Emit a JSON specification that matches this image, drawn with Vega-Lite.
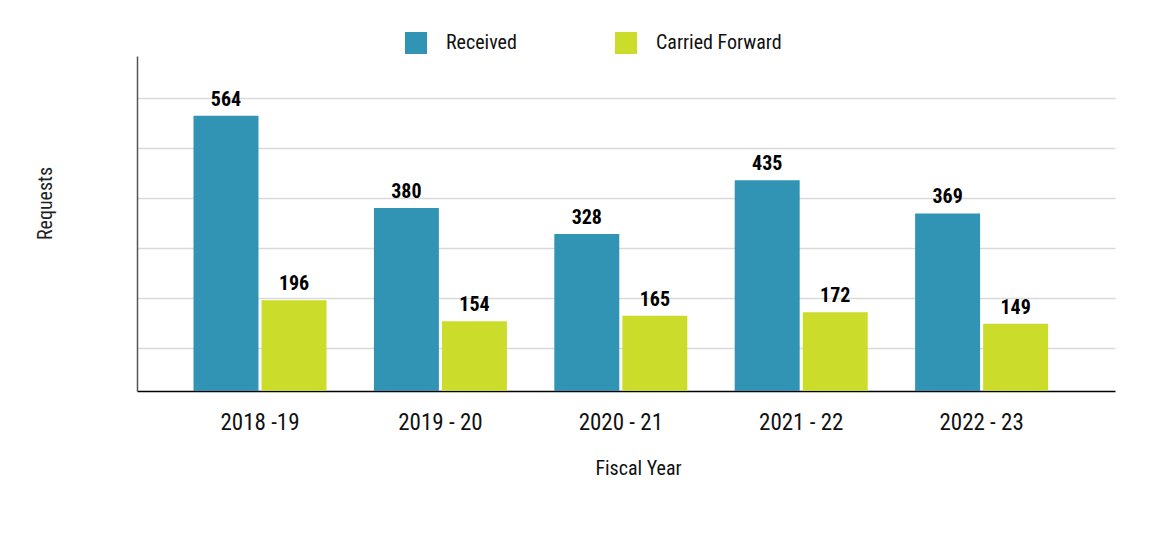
{
  "$schema": "https://vega.github.io/schema/vega-lite/v6.json",
  "width": 978,
  "height": 335,
  "autosize": "none",
  "padding": {"left": 137, "top": 56, "right": 55, "bottom": 142},
  "background": "white",
  "config": {
    "view": {"stroke": null},
    "font": "Liberation Sans Narrow, Roboto Condensed, DejaVu Sans Condensed, sans-serif"
  },
  "data": {
    "values": [
      {"year": "2018 -19", "series": "Received", "value": 564},
      {"year": "2018 -19", "series": "Carried Forward", "value": 196},
      {"year": "2019 - 20", "series": "Received", "value": 380},
      {"year": "2019 - 20", "series": "Carried Forward", "value": 154},
      {"year": "2020 - 21", "series": "Received", "value": 328},
      {"year": "2020 - 21", "series": "Carried Forward", "value": 165},
      {"year": "2021 - 22", "series": "Received", "value": 435},
      {"year": "2021 - 22", "series": "Carried Forward", "value": 172},
      {"year": "2022 - 23", "series": "Received", "value": 369},
      {"year": "2022 - 23", "series": "Carried Forward", "value": 149}
    ]
  },
  "encoding": {
    "x": {
      "field": "year",
      "type": "nominal",
      "sort": null,
      "title": "Fiscal Year",
      "scale": {"paddingInner": 0.2627, "paddingOuter": 0.342, "align": 0.458},
      "axis": {
        "labelAngle": 0,
        "labelFontSize": 23,
        "labelColor": "#111",
        "labelPadding": 20,
        "ticks": false,
        "domainColor": "#000",
        "domainWidth": 1.5,
        "titleFontSize": 20,
        "titleFontWeight": "normal",
        "titleColor": "#111",
        "titleX": 501,
        "titleY": 83,
        "titleBaseline": "alphabetic",
        "titleAnchor": null,
        "titleAlign": "center"
      }
    },
    "xOffset": {
      "field": "series",
      "sort": ["Received", "Carried Forward"],
      "scale": {"paddingInner": 0.045}
    },
    "y": {
      "field": "value",
      "type": "quantitative",
      "title": "Requests",
      "scale": {"domain": [15, 683], "nice": false, "zero": false},
      "axis": {
        "values": [100, 200, 300, 400, 500, 600],
        "labels": false,
        "ticks": false,
        "grid": true,
        "gridColor": "#d9d9d9",
        "gridWidth": 1.5,
        "domainColor": "#555",
        "domainWidth": 1.5,
        "titleFontSize": 20,
        "titleFontWeight": "normal",
        "titleColor": "#222",
        "titleX": -92,
        "titleY": 147,
        "titleAlign": "center",
        "titleBaseline": "middle",
        "titleAnchor": null
      }
    }
  },
  "layer": [
    {
      "mark": {"type": "bar", "clip": true},
      "encoding": {
        "color": {
          "field": "series",
          "type": "nominal",
          "scale": {"domain": ["Received", "Carried Forward"], "range": ["#3194b4", "#ccdc2b"]},
          "legend": {
            "title": null,
            "orient": "none",
            "legendX": 268,
            "legendY": -24,
            "direction": "horizontal",
            "padding": 0,
            "symbolType": "square",
            "symbolSize": 484,
            "symbolStrokeWidth": 0,
            "symbolOpacity": 1,
            "labelFontSize": 20,
            "labelColor": "#111",
            "labelOffset": 19,
            "gridAlign": "all",
            "columnPadding": 43,
            "labelLimit": 300
          }
        }
      }
    },
    {
      "mark": {"type": "text", "baseline": "alphabetic", "dy": -10, "fontSize": 20, "fontWeight": "bold", "color": "#000"},
      "encoding": {"text": {"field": "value", "type": "quantitative"}}
    }
  ]
}
